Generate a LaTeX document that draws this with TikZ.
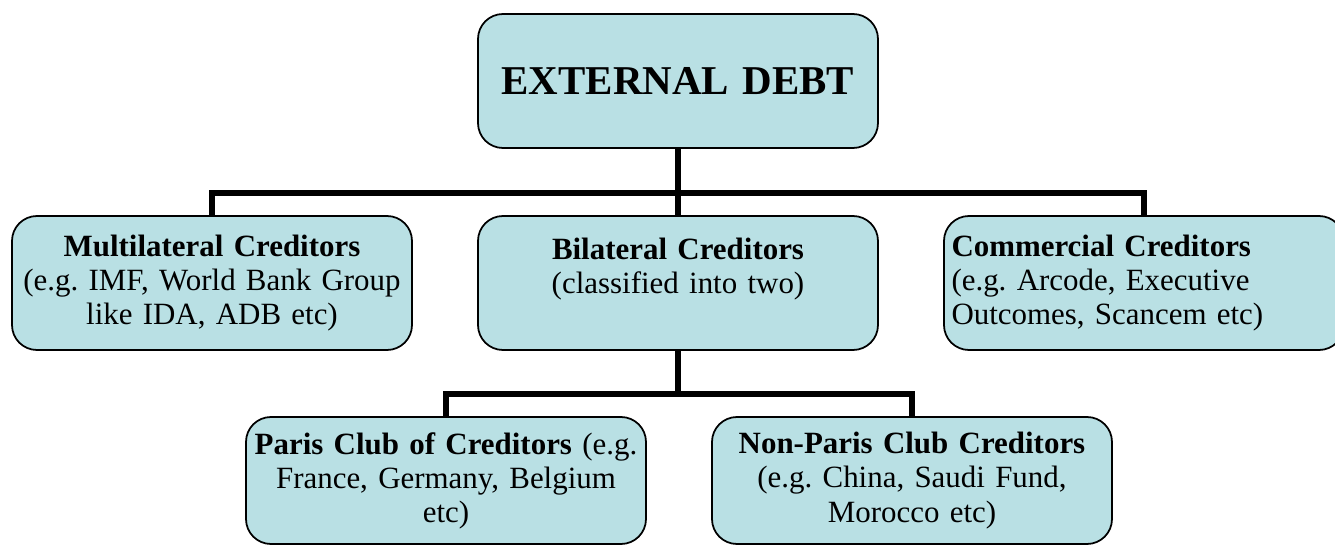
\documentclass[tikz,border=0pt]{standalone}
\usepackage{fontspec}
\setmainfont{Liberation Serif}
\usepackage{tikz}
\usetikzlibrary{positioning, calc}
\definecolor{boxblue}{RGB}{185,224,228}
\frenchspacing

\begin{document}
\begin{tikzpicture}[
    box/.style={rectangle, rounded corners=0.5cm, draw=black, fill=boxblue, line width=1pt, outer sep=0pt,
        minimum width=8cm, minimum height=2.68cm, text width=7.9cm, inner xsep=0.05cm, align=center,
        font=\fontsize{17.6}{19.4}\selectfont},
    lowbox/.style={box, minimum height=2.54cm},
    headbox/.style={box, font=\fontsize{23.3}{28}\selectfont\bfseries},
    link/.style={line width=3.4pt}
]
\useasboundingbox (-13.56,1.62) rectangle (13.14,-9.30);

% Top level
\node[headbox] (ext) at (0,0) {EXTERNAL DEBT};

% Creditor groups
\node[box, below=1.36cm of ext] (bil) {\textbf{Bilateral Creditors}\\(classified into two)\\\mbox{}};
\node[box, left=1.32cm of bil] (multi) {\textbf{Multilateral Creditors}\\(e.g. IMF, World Bank Group\\like IDA, ADB etc)};
\node[box, right=1.32cm of bil, align=left, text width=7.7cm, inner xsep=0.15cm] (comm) {\textbf{Commercial Creditors}\\(e.g. Arcode, Executive\\Outcomes, Scancem etc)};

% Bilateral split
\node[lowbox, below=1.34cm of bil, xshift=-4.64cm] (paris) {\textbf{Paris Club of Creditors} (e.g.\\France, Germany, Belgium\\etc)};
\node[lowbox, below=1.34cm of bil, xshift=4.68cm] (nonparis) {\textbf{Non-Paris Club Creditors}\\(e.g. China, Saudi Fund,\\Morocco etc)};

% Connectors
\coordinate (bar1) at ($(ext.south)!0.66!(bil.north)$);
\coordinate (bar2) at ($(bil.south)!0.66!(paris.north -| bil.south)$);
\draw[link] (ext.south) -- (bil.north);
\draw[link] (multi.north) |- (bar1) -| (comm.north);
\draw[link] (bil.south) -- (bar2);
\draw[link] (paris.north) |- (bar2) -| (nonparis.north);

\end{tikzpicture}
\end{document}
